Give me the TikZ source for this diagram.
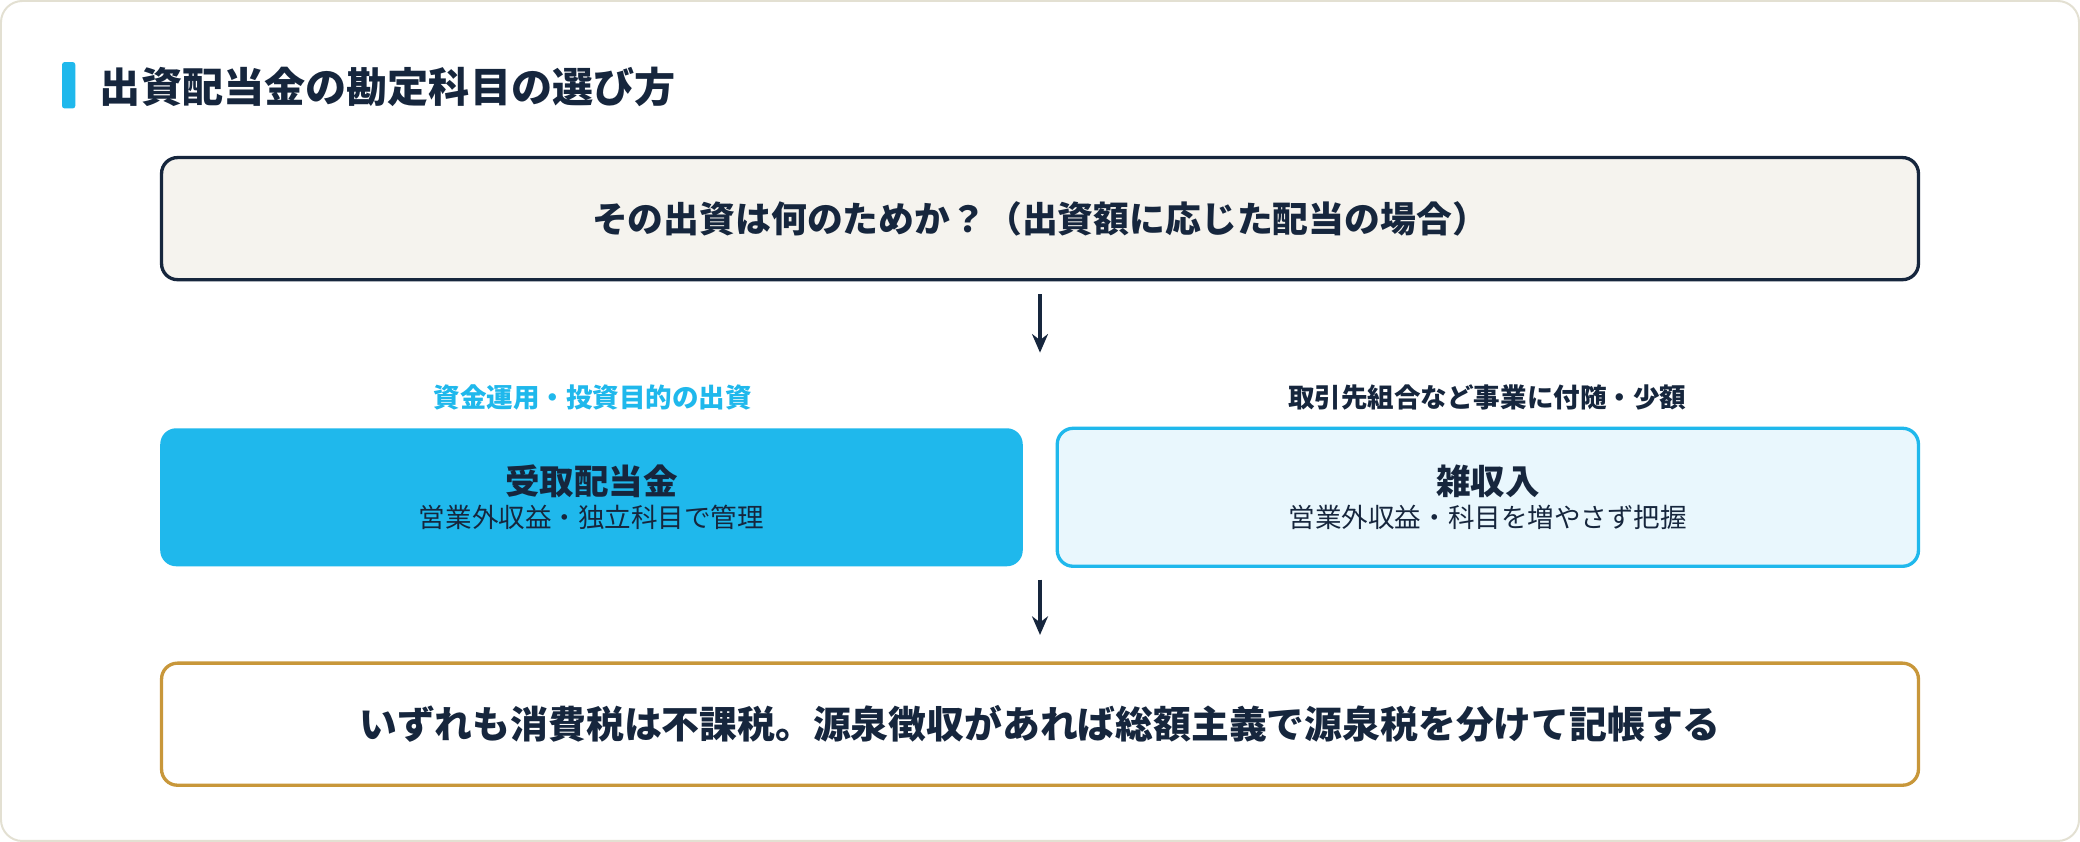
\documentclass[tikz,border=0pt]{standalone}
\usepackage{fontspec}
\setmainfont{Noto Sans CJK JP}
\usetikzlibrary{positioning, arrows.meta}
\definecolor{navy}{HTML}{16263D}
\definecolor{sky}{HTML}{1FB8EC}
\definecolor{skypale}{HTML}{E9F7FD}
\definecolor{cream}{HTML}{F5F3EE}
\definecolor{gold}{HTML}{C8973A}
\definecolor{frame}{HTML}{E3E0D2}
\tikzset{
  box/.style={rounded corners=12pt, line width=2.5pt, minimum height=92pt, text=navy},
  down/.style={-{Stealth[length=14pt,width=12pt]}, line width=2.5pt, draw=navy},
  tag/.style={font=\fontsize{20}{24}\selectfont\bfseries},
}
\begin{document}
\begin{tikzpicture}[x=1pt,y=-1pt]
% frame
\draw[frame, fill=white, line width=1.5pt, rounded corners=16pt] (1,1) rectangle (1567,634);
\fill[sky, rounded corners=2pt] (47,47) rectangle (57,82);
\node[anchor=west, text=navy, font=\fontsize{31}{36}\selectfont\bfseries] (title) at (72,66) {出資配当金の勘定科目の選び方};

% question
\node[box, draw=navy, fill=cream, minimum width=1324pt, font=\fontsize{27}{32}\selectfont\bfseries] (q) at (784,165)
  {その出資は何のためか？（出資額に応じた配当の場合）};
\coordinate (a0) at (784,222);
\coordinate (a1) at (784,266);
\draw[down] (a0) -- (a1);

% branches
\node[tag, text=sky] (ltag) at (447,300) {資金運用・投資目的の出資};
\node[tag, text=navy] (rtag) at (1121,300) {取引先組合など事業に付随・少額};
\node[box, draw=none, fill=sky, minimum width=650pt, minimum height=104pt, align=center] (left) at (446,375)
  {{\fontsize{26}{30}\selectfont\bfseries 受取配当金}\\[4pt]{\fontsize{20}{24}\selectfont 営業外収益・独立科目で管理}};
\node[box, draw=sky, fill=skypale, minimum width=649pt, minimum height=104pt, align=center] (right) at (1121.5,375)
  {{\fontsize{26}{30}\selectfont\bfseries 雑収入}\\[4pt]{\fontsize{20}{24}\selectfont 営業外収益・科目を増やさず把握}};

% result
\node[box, draw=gold, fill=white, minimum width=1324pt, font=\fontsize{28.5}{33}\selectfont\bfseries] (res) at (784,546)
  {いずれも消費税は不課税。源泉徴収があれば総額主義で源泉税を分けて記帳する};
\coordinate (a2) at (784,437);
\draw[down] (a2) -- ([yshift=20pt]res.north);
\end{tikzpicture}
\end{document}
